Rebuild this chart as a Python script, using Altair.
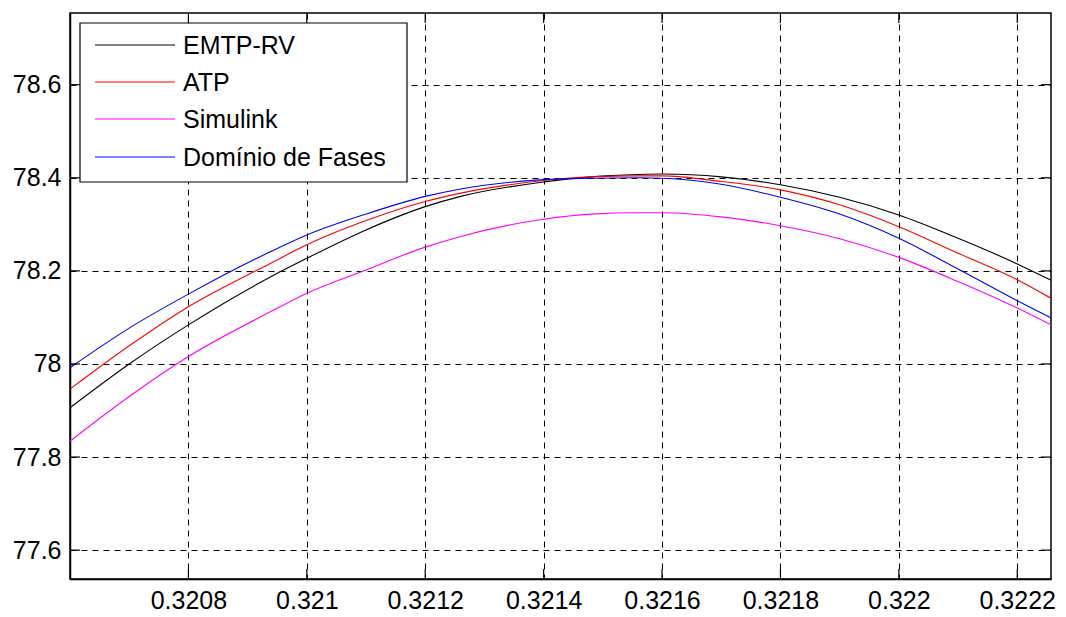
import altair as alt
import pandas as pd

# Time instants (s) at which the four waveforms are sampled
t = [0.32060, 0.32070, 0.32080, 0.32094, 0.32100, 0.32110, 0.32120, 0.32126,
     0.32140, 0.32148, 0.32156, 0.32160, 0.32170, 0.32180, 0.32190, 0.32200,
     0.32210, 0.32220, 0.32226]

emtp_rv = [77.906, 78.000, 78.084, 78.188, 78.227, 78.288, 78.338, 78.360,
           78.391, 78.402, 78.407, 78.408, 78.402, 78.385, 78.358, 78.320,
           78.270, 78.215, 78.178]
atp = [77.946, 78.039, 78.123, 78.217, 78.256, 78.308, 78.349, 78.367,
       78.394, 78.402, 78.404, 78.404, 78.392, 78.374, 78.342, 78.295,
       78.238, 78.181, 78.139]
simulink = [77.834, 77.930, 78.016, 78.113, 78.152, 78.202, 78.251, 78.274,
            78.311, 78.322, 78.325, 78.325, 78.316, 78.297, 78.269, 78.229,
            78.177, 78.120, 78.082]
dominio_fases = [77.992, 78.077, 78.150, 78.242, 78.277, 78.322, 78.360, 78.376,
                 78.396, 78.399, 78.400, 78.399, 78.386, 78.358, 78.322, 78.270,
                 78.204, 78.136, 78.097]

series_names = ["EMTP-RV", "ATP", "Simulink", "Domínio de Fases"]
series_colors = ["#000000", "#ff0000", "#ff00ff", "#0000ff"]

x_ticks = [0.3208, 0.3210, 0.3212, 0.3214, 0.3216, 0.3218, 0.3220, 0.3222]
y_ticks = [77.6, 77.8, 78.0, 78.2, 78.4, 78.6]

# Plot-area size and axis limits
W, H = 981, 566
x_dom = [0.32060, 0.322257]
y_dom = [77.538, 78.754]
TICK = 10
FONT = "Liberation Sans"
FS = 25

rows = []
for name, vals in zip(series_names, [emtp_rv, atp, simulink, dominio_fases]):
    for ti, v in zip(t, vals):
        rows.append({"t": ti, "v": v, "series": name})
df = pd.DataFrame(rows)

xs = alt.Scale(domain=x_dom, nice=False, zero=False)
ys = alt.Scale(domain=y_dom, nice=False, zero=False)
color_scale = alt.Scale(domain=series_names, range=series_colors)

common_axis = dict(
    grid=True, gridDash=[6, 5], gridColor="black", gridOpacity=1, gridWidth=1,
    tickSize=0, labelFontSize=FS, labelFont=FONT, labelColor="black",
    domainColor="black", domainWidth=1.5, title=None,
    labelOverlap=False, labelFlush=False, labelBound=False, format="~g",
)
x_axis = alt.Axis(values=x_ticks, labelPadding=9, **common_axis)
y_axis = alt.Axis(values=y_ticks, labelPadding=9, **common_axis)

lines = alt.Chart(df).mark_line(strokeWidth=1.1, interpolate="monotone", clip=True).encode(
    x=alt.X("t:Q", scale=xs, axis=x_axis),
    y=alt.Y("v:Q", scale=ys, axis=y_axis),
    color=alt.Color("series:N", scale=color_scale, legend=None),
)

# Inward ticks on all four sides of the box
xt = pd.DataFrame({"t": x_ticks})
yt = pd.DataFrame({"v": y_ticks})
tick_layers = [
    alt.Chart(xt).mark_rule(color="black", strokeWidth=1.2).encode(
        x=alt.X("t:Q", scale=xs, axis=x_axis), y=alt.value(H), y2=alt.value(H - TICK)),
    alt.Chart(xt).mark_rule(color="black", strokeWidth=1.2).encode(
        x=alt.X("t:Q", scale=xs, axis=x_axis), y=alt.value(0), y2=alt.value(TICK)),
    alt.Chart(yt).mark_rule(color="black", strokeWidth=1.2).encode(
        y=alt.Y("v:Q", scale=ys, axis=y_axis), x=alt.value(0), x2=alt.value(TICK)),
    alt.Chart(yt).mark_rule(color="black", strokeWidth=1.2).encode(
        y=alt.Y("v:Q", scale=ys, axis=y_axis), x=alt.value(W - TICK), x2=alt.value(W)),
]

# Legend box in the upper-left corner
legend_layers = [
    alt.Chart(pd.DataFrame({"series": series_names[:1]})).mark_rect(
        fill="white", stroke="black", strokeWidth=1.2).encode(
        x=alt.value(10), x2=alt.value(337), y=alt.value(10), y2=alt.value(169))
]
for i, (name, col) in enumerate(zip(series_names, series_colors)):
    yp = round(31.5 + 37.5 * i)
    ld = pd.DataFrame({"series": [name], "row": [i]})
    legend_layers.append(
        alt.Chart(ld).mark_rect(color=col).encode(
            x=alt.value(25), x2=alt.value(105), y=alt.value(yp - 0.6), y2=alt.value(yp + 0.6)))
    legend_layers.append(
        alt.Chart(ld).mark_text(align="left", baseline="middle", fontSize=FS,
                                font=FONT, color="black").encode(
            x=alt.value(113), y=alt.value(yp + 1), text="series:N"))

chart = alt.layer(lines, *tick_layers, *legend_layers).properties(
    width=W, height=H,
    autosize=alt.AutoSizeParams(type="none"),
    padding={"left": 70, "top": 13, "right": 15, "bottom": 38},
    background="white",
).configure_view(stroke="black", strokeWidth=1.5)

chart.save("out.html", embed_options={"renderer": "svg", "actions": False})
